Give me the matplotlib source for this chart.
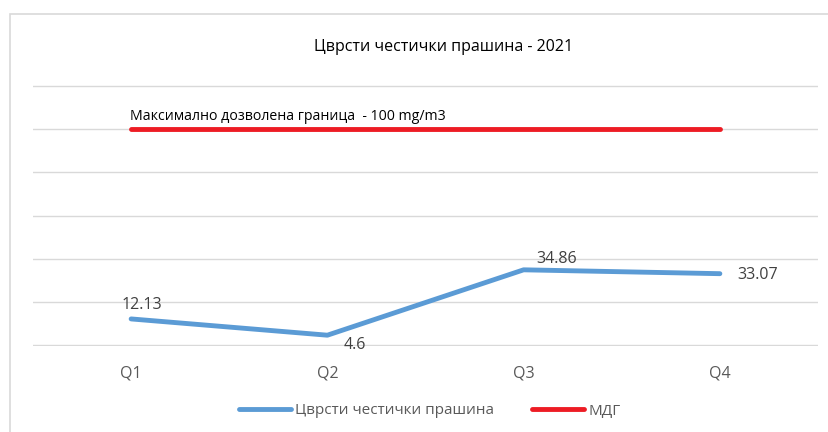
import matplotlib.pyplot as plt
import matplotlib.patches as patches

# chart data
quarters = ['Q1', 'Q2', 'Q3', 'Q4']
dust = [12.13, 4.6, 34.86, 33.07]   # Цврсти честички прашина
limit = [100, 100, 100, 100]        # МДГ
y_ticks = [0, 20, 40, 60, 80, 100, 120]

plt.rcParams['font.family'] = ['Open Sans', 'DejaVu Sans']
text_grey = '#595959'

W, H = 829, 432
fig = plt.figure(figsize=(W / 100, H / 100), dpi=100)

# plot area in pixels: x 33..818, y 85..346
ax = fig.add_axes([33 / W, 1 - 346 / H, (818 - 33) / W, (346 - 85) / H])

# light border of the chart box
fig.patches.append(patches.Rectangle((10 / W, -0.1), 1.2, 1 - 14 / H + 0.1,
                                     transform=fig.transFigure, fill=False,
                                     edgecolor='#d9d9d9', linewidth=1.2))

x = range(len(quarters))
ax.plot(x, dust, color='#5b9bd5', linewidth=3.5, solid_capstyle='round',
        solid_joinstyle='round', label='Цврсти честички прашина', zorder=3)
ax.plot(x, limit, color='#ed1c24', linewidth=3.5, solid_capstyle='round',
        label='МДГ', zorder=3)

ax.set_xlim(-0.5, len(quarters) - 0.5)
ax.set_ylim(y_ticks[0] - 0.4, y_ticks[-1] + 0.4)
ax.set_yticks(y_ticks)
ax.yaxis.grid(True, color='#d9d9d9', linewidth=1)
ax.set_axisbelow(True)
ax.tick_params(axis='y', left=False, labelleft=False)
ax.tick_params(axis='x', length=0, pad=14, labelsize=11.5, labelcolor=text_grey)
ax.set_xticks(list(x))
ax.set_xticklabels(quarters)
for s in ax.spines.values():
    s.set_visible(False)

# data labels (offsets in points)
offsets = [(8, 10), (20, -7), (24, 8), (27, -1)]
for i, v in enumerate(dust):
    ax.annotate(f'{v:g}', (i, v), xytext=offsets[i], textcoords='offset points',
                ha='center', va='center', fontsize=11.5, color='#404040')

ax.annotate('Максимално дозволена граница  - 100 mg/m3', (0, limit[0]),
            xytext=(-1, 9), textcoords='offset points', ha='left', va='center',
            fontsize=10.2, color='black')

fig.text(444 / W, 1 - 47 / H, 'Цврсти честички прашина - 2021', ha='center',
         va='center', fontsize=11.5, color='black')

leg = fig.legend(loc='center', bbox_to_anchor=(430 / W, 1 - 411 / H), ncol=2,
                 frameon=False, fontsize=11, handlelength=3.4,
                 columnspacing=2.5, handletextpad=0.3)
for t in leg.get_texts():
    t.set_color(text_grey)

fig.savefig('out.png', dpi=100)
